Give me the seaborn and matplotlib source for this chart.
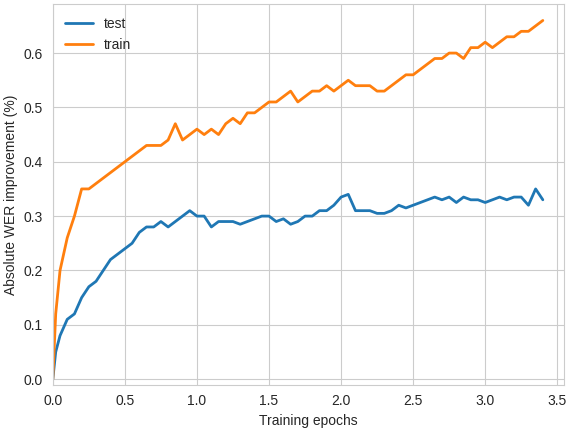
import matplotlib
matplotlib.use("Agg")
import matplotlib.pyplot as plt
import seaborn as sns
import pandas as pd

epochs = [0, 0.02, 0.05, 0.1, 0.15, 0.2, 0.25, 0.3, 0.35, 0.4, 0.45, 0.5, 0.55, 0.6, 0.65, 0.7, 0.75, 0.8, 0.85, 0.9, 0.95,
          1.0, 1.05, 1.1, 1.15, 1.2, 1.25, 1.3, 1.35, 1.4, 1.45, 1.5, 1.55, 1.6, 1.65, 1.7, 1.75, 1.8, 1.85, 1.9, 1.95,
          2.0, 2.05, 2.1, 2.15, 2.2, 2.25, 2.3, 2.35, 2.4, 2.45, 2.5, 2.55, 2.6, 2.65, 2.7, 2.75, 2.8, 2.85, 2.9, 2.95,
          3.0, 3.05, 3.1, 3.15, 3.2, 3.25, 3.3, 3.35, 3.4]
train = [0.0, 0.12, 0.2, 0.26, 0.30, 0.35, 0.35, 0.36, 0.37, 0.38, 0.39, 0.40, 0.41, 0.42, 0.43, 0.43, 0.43, 0.44, 0.47, 0.44, 0.45,
         0.46, 0.45, 0.46, 0.45, 0.47, 0.48, 0.47, 0.49, 0.49, 0.50, 0.51, 0.51, 0.52, 0.53, 0.51, 0.52, 0.53, 0.53, 0.54, 0.53,
         0.54, 0.55, 0.54, 0.54, 0.54, 0.53, 0.53, 0.54, 0.55, 0.56, 0.56, 0.57, 0.58, 0.59, 0.59, 0.60, 0.60, 0.59, 0.61, 0.61,
         0.62, 0.61, 0.62, 0.63, 0.63, 0.64, 0.64, 0.65, 0.66]
test = [0.0, 0.05, 0.08, 0.11, 0.12, 0.15, 0.17, 0.18, 0.20, 0.22, 0.23, 0.24, 0.25, 0.27, 0.28, 0.28, 0.29, 0.28, 0.29, 0.30, 0.31,
        0.30, 0.30, 0.28, 0.29, 0.29, 0.29, 0.285, 0.29, 0.295, 0.30, 0.30, 0.29, 0.295, 0.285, 0.29, 0.30, 0.30, 0.31, 0.31, 0.32,
        0.335, 0.34, 0.31, 0.31, 0.31, 0.305, 0.305, 0.31, 0.32, 0.315, 0.32, 0.325, 0.33, 0.335, 0.33, 0.335, 0.325, 0.335, 0.33, 0.33,
        0.325, 0.33, 0.335, 0.33, 0.335, 0.335, 0.32, 0.35, 0.33]

sns.set_style("whitegrid", {"axes.edgecolor": "#cccccc"})
plt.rcParams["font.family"] = ["Liberation Sans", "DejaVu Sans"]

df = pd.DataFrame({"epoch": epochs * 2, "val": test + train,
                   "series": ["test"] * len(test) + ["train"] * len(train)})

fig, ax = plt.subplots(figsize=(5.72, 4.32), dpi=100)
sns.lineplot(data=df, x="epoch", y="val", hue="series",
             palette=["#1f77b4", "#ff7f0e"], linewidth=2, ax=ax)
ax.set_xlim(0, 3.55)
ax.set_ylim(-0.01, 0.69)
ax.set_xticks([0, 0.5, 1.0, 1.5, 2.0, 2.5, 3.0, 3.5])
ax.set_yticks([0.0, 0.1, 0.2, 0.3, 0.4, 0.5, 0.6])
ax.set_xlabel("Training epochs")
ax.set_ylabel("Absolute WER improvement (%)")
ax.legend(loc="upper left", frameon=False, title=None)
fig.tight_layout(pad=0.3)
fig.savefig("out.png")
